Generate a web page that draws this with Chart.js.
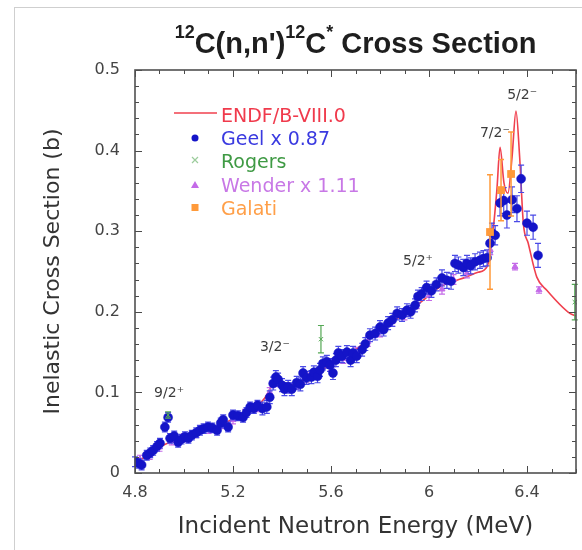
<!DOCTYPE html>
<html>
<head>
<meta charset="utf-8">
<script src="https://cdn.jsdelivr.net/npm/chart.js@4/dist/chart.umd.min.js"></script>
<style>
  html, body { margin:0; padding:0; background:#fff; }
  #wrap { position:relative; width:582px; height:550px; overflow:hidden; }
  #frame { position:absolute; left:14px; top:7px; right:-2px; bottom:-2px; border-top:1px solid #cfcfcf; border-left:1px solid #cfcfcf; }
  #title { position:absolute; left:135px; width:441px; top:25px; text-align:center; font:bold 29px "Liberation Sans", Arial, sans-serif; color:#1e1e1e; line-height:36px; white-space:nowrap; }
  #title sup { font-size:18px; vertical-align:15px; line-height:0; }
  canvas { position:absolute; left:0; top:0; }
</style>
</head>
<body>
<div id="wrap">
  <div id="frame"></div>
  <canvas id="c" width="582" height="550"></canvas>
  <div id="title"><sup>12</sup>C(n,n')<sup>12</sup>C<sup>*</sup> Cross Section</div>
</div>
<script>
// ---------- DATA ----------
const xTicks = [4.8, 5.2, 5.6, 6.0, 6.4];
const yTicks = [0, 0.1, 0.2, 0.3, 0.4, 0.5];

const endfE = [4.80,4.85,4.90,4.95,5.00,5.05,5.10,5.15,5.20,5.25,5.30,5.33,5.35,5.365,5.38,5.40,5.45,5.50,5.55,5.60,5.65,5.70,5.75,5.80,5.85,5.90,5.95,6.00,6.05,6.10,6.15,6.20,6.237,6.257,6.277,6.29,6.306,6.322,6.339,6.355,6.37,6.385,6.405,6.44,6.48,6.575,6.60];
const endfS = [0.012,0.022,0.032,0.039,0.044,0.049,0.054,0.060,0.067,0.075,0.084,0.093,0.104,0.117,0.113,0.108,0.110,0.117,0.125,0.135,0.144,0.153,0.165,0.177,0.188,0.197,0.208,0.220,0.232,0.238,0.243,0.249,0.256,0.289,0.351,0.404,0.360,0.347,0.392,0.449,0.392,0.310,0.285,0.243,0.227,0.198,0.195];

const geelE = [4.800,4.815,4.827,4.848,4.862,4.874,4.890,4.902,4.922,4.935,4.943,4.960,4.976,4.990,5.004,5.018,5.032,5.050,5.065,5.080,5.098,5.115,5.135,5.150,5.160,5.180,5.200,5.220,5.241,5.255,5.270,5.285,5.300,5.320,5.338,5.350,5.364,5.375,5.384,5.400,5.410,5.425,5.440,5.460,5.475,5.486,5.500,5.520,5.530,5.545,5.555,5.567,5.583,5.596,5.608,5.620,5.630,5.645,5.665,5.680,5.690,5.705,5.727,5.740,5.759,5.780,5.800,5.815,5.833,5.850,5.870,5.890,5.910,5.925,5.943,5.955,5.970,5.990,6.010,6.030,6.053,6.073,6.090,6.106,6.120,6.140,6.155,6.170,6.188,6.208,6.222,6.237,6.249,6.257,6.270,6.290,6.305,6.318,6.339,6.359,6.376,6.400,6.425,6.445];
const geelS = [0.014,0.012,0.010,0.022,0.025,0.028,0.033,0.037,0.057,0.069,0.043,0.046,0.038,0.042,0.045,0.043,0.047,0.050,0.053,0.055,0.057,0.056,0.053,0.062,0.066,0.057,0.072,0.071,0.069,0.075,0.082,0.080,0.084,0.080,0.082,0.094,0.111,0.119,0.116,0.109,0.104,0.107,0.104,0.112,0.110,0.124,0.118,0.119,0.125,0.120,0.128,0.136,0.138,0.134,0.124,0.140,0.149,0.145,0.150,0.140,0.149,0.145,0.153,0.160,0.171,0.173,0.181,0.178,0.186,0.190,0.198,0.196,0.202,0.200,0.208,0.219,0.222,0.230,0.226,0.234,0.242,0.239,0.238,0.260,0.258,0.255,0.260,0.257,0.262,0.264,0.266,0.267,0.285,0.298,0.295,0.335,0.338,0.320,0.339,0.328,0.365,0.310,0.305,0.270];
const geelErr = [0.006,0.006,0.006,0.006,0.006,0.006,0.006,0.006,0.006,0.006,0.006,0.006,0.006,0.006,0.006,0.006,0.006,0.006,0.006,0.006,0.006,0.006,0.006,0.006,0.006,0.006,0.006,0.006,0.006,0.006,0.006,0.006,0.006,0.008,0.008,0.008,0.008,0.008,0.008,0.008,0.008,0.008,0.008,0.008,0.008,0.008,0.008,0.008,0.008,0.008,0.008,0.008,0.008,0.008,0.008,0.008,0.008,0.008,0.008,0.008,0.008,0.008,0.008,0.008,0.008,0.008,0.008,0.008,0.008,0.008,0.008,0.008,0.008,0.008,0.008,0.008,0.008,0.008,0.008,0.008,0.010,0.010,0.010,0.010,0.010,0.010,0.010,0.010,0.010,0.010,0.010,0.010,0.012,0.012,0.012,0.016,0.016,0.016,0.016,0.016,0.017,0.015,0.015,0.015];

const rogersE = [4.935, 5.559, 6.595];
const rogersS = [0.072, 0.166, 0.212];
const rogersErr = [0.004, 0.017, 0.022];

const wenderE = [4.82,4.86,4.90,4.95,5.00,5.05,5.10,5.15,5.20,5.25,5.30,5.35,5.38,5.42,5.46,5.50,5.55,5.60,5.65,5.70,5.75,5.80,5.85,5.90,5.95,6.00,6.053,6.10,6.155,6.25,6.351,6.449];
const wenderS = [0.017,0.022,0.032,0.040,0.044,0.049,0.054,0.060,0.066,0.074,0.082,0.100,0.113,0.106,0.110,0.118,0.124,0.133,0.142,0.150,0.163,0.175,0.188,0.196,0.210,0.220,0.228,0.240,0.248,0.277,0.256,0.227];
const wenderErr = [0.005,0.005,0.005,0.005,0.005,0.005,0.005,0.005,0.005,0.005,0.006,0.006,0.006,0.006,0.006,0.006,0.006,0.006,0.006,0.006,0.006,0.006,0.006,0.006,0.006,0.006,0.006,0.006,0.006,0.006,0.004,0.004];

const galatiE = [6.249, 6.294, 6.335];
const galatiS = [0.299, 0.351, 0.371];
const galatiErr = [0.071, 0.038, 0.052];

const seriesNames = ['ENDF/B-VIII.0', 'Geel x 0.87', 'Rogers', 'Wender x 1.11', 'Galati'];
const resonanceLabels = [
  {E:4.939, s:0.099, t:'9/2\u207A'},
  {E:5.371, s:0.156, t:'3/2\u207B'},
  {E:5.955, s:0.262, t:'5/2\u207A'},
  {E:6.269, s:0.422, t:'7/2\u207B'},
  {E:6.380, s:0.469, t:'5/2\u207B'}
];

// ---------- STYLE ----------
const C = {
  endf:'#f0404e', geel:'#1414c8', geelErr:'#4a4ae6', rogers:'#55a855',
  wender:'#c46ae8', galati:'#ff9a3a',
  geelText:'#3a3ae0', rogersText:'#3f9a44', wenderText:'#c878e6', galatiText:'#ff9f48', endfText:'#f03a4c'
};
const zip = (a,b) => a.map((v,i)=>({x:v, y:b[i]}));

const errorBars = {
  id:'errorBars',
  beforeDatasetDraw(chart, args){
    const ds = chart.data.datasets[args.index];
    if (!ds.errors) return;
    const {ctx} = chart; const y = chart.scales.y;
    ctx.save();
    ctx.strokeStyle = ds.errColor; ctx.lineWidth = ds.errWidth || 1.2;
    args.meta.data.forEach((pt,i)=>{
      const v = ds.data[i].y, e = ds.errors[i];
      const t = y.getPixelForValue(v+e), b = y.getPixelForValue(v-e);
      const cw = ds.capW || 3;
      ctx.beginPath();
      ctx.moveTo(pt.x, t); ctx.lineTo(pt.x, b);
      ctx.moveTo(pt.x-cw, t); ctx.lineTo(pt.x+cw, t);
      ctx.moveTo(pt.x-cw, b); ctx.lineTo(pt.x+cw, b);
      ctx.stroke();
    });
    ctx.restore();
  }
};

const frameTicks = {
  id:'frameTicks',
  afterDraw(chart){
    const {ctx, chartArea:a, scales:{x, y}} = chart;
    ctx.save();
    ctx.strokeStyle = '#4a4a4a';
    ctx.lineWidth = 1;
    for (let i=0;i<=18;i++){
      const v = 4.8 + i*0.1;
      const px = Math.round(x.getPixelForValue(v))+0.5;
      const L = (i%4===0) ? 7 : 4;
      ctx.beginPath();
      ctx.moveTo(px, a.bottom); ctx.lineTo(px, a.bottom-L);
      ctx.moveTo(px, a.top); ctx.lineTo(px, a.top+L);
      ctx.stroke();
    }
    for (let i=0;i<=25;i++){
      const v = i*0.02;
      const py = Math.round(y.getPixelForValue(v))+0.5;
      const L = (i%5===0) ? 7 : 4;
      ctx.beginPath();
      ctx.moveTo(a.left, py); ctx.lineTo(a.left+L, py);
      ctx.moveTo(a.right, py); ctx.lineTo(a.right-L, py);
      ctx.stroke();
    }
    ctx.lineWidth = 1.6;
    ctx.strokeStyle = '#505050';
    ctx.strokeRect(a.left, a.top, a.right-a.left, a.bottom-a.top);
    ctx.restore();
  }
};

const labelsAndLegend = {
  id:'labelsAndLegend',
  afterDraw(chart){
    const {ctx, scales:{x, y}} = chart;
    ctx.save();
    ctx.font = '14px "DejaVu Sans"';
    ctx.fillStyle = '#3c3c3c';
    ctx.textAlign = 'center'; ctx.textBaseline = 'middle';
    resonanceLabels.forEach(r => ctx.fillText(r.t, x.getPixelForValue(r.E), y.getPixelForValue(r.s)));
    const tx = 221, rows = [116, 139, 162, 186, 209], mx = 195;
    ctx.textAlign = 'left';
    ctx.font = '19px "DejaVu Sans"';
    const colors = [C.endfText, C.geelText, C.rogersText, C.wenderText, C.galatiText];
    seriesNames.forEach((n,i)=>{ ctx.fillStyle = colors[i]; ctx.fillText(n, tx, rows[i]+1); });
    ctx.strokeStyle = C.endf; ctx.lineWidth = 1.5;
    ctx.beginPath(); ctx.moveTo(174, rows[0]-3); ctx.lineTo(217, rows[0]-3); ctx.stroke();
    ctx.fillStyle = C.geel;
    ctx.beginPath(); ctx.arc(mx, rows[1]-1, 3.5, 0, Math.PI*2); ctx.fill();
    ctx.strokeStyle = '#9ccc9c'; ctx.lineWidth = 1.2;
    ctx.beginPath(); ctx.moveTo(mx-3, rows[2]-5); ctx.lineTo(mx+3, rows[2]+1); ctx.moveTo(mx+3, rows[2]-5); ctx.lineTo(mx-3, rows[2]+1); ctx.stroke();
    ctx.fillStyle = C.wender;
    ctx.beginPath(); ctx.moveTo(mx, rows[3]-5); ctx.lineTo(mx+4, rows[3]+2); ctx.lineTo(mx-4, rows[3]+2); ctx.closePath(); ctx.fill();
    ctx.fillStyle = C.galati;
    ctx.fillRect(mx-3.5, rows[4]-5, 7, 7);
    ctx.restore();
  }
};

new Chart(document.getElementById('c'), {
  type:'scatter',
  data:{
    datasets:[
      {label:seriesNames[0], data:zip(endfE, endfS), showLine:true, borderColor:C.endf, borderWidth:1.6, pointRadius:0, cubicInterpolationMode:'monotone', order:5},
      {label:seriesNames[3], data:zip(wenderE, wenderS), pointStyle:'triangle', pointRadius:3.5, backgroundColor:C.wender, borderColor:C.wender, borderWidth:1, errors:wenderErr, errColor:C.wender, capW:3, order:4},
      {label:seriesNames[1], data:zip(geelE, geelS), pointStyle:'circle', pointRadius:4.5, backgroundColor:C.geel, borderColor:C.geel, borderWidth:0.5, errors:geelErr, errColor:C.geelErr, capW:3, order:3},
      {label:seriesNames[2], data:zip(rogersE, rogersS), pointStyle:'crossRot', pointRadius:3, borderColor:C.rogers, borderWidth:1, errors:rogersErr, errColor:C.rogers, capW:3, clip:false, order:2},
      {label:seriesNames[4], data:zip(galatiE, galatiS), pointStyle:'rect', pointRadius:5.5, backgroundColor:C.galati, borderColor:C.galati, borderWidth:0, errors:galatiErr, errColor:C.galati, errWidth:1.5, capW:3, order:1}
    ]
  },
  options:{
    responsive:false, animation:false, devicePixelRatio:1,
    layout:{padding:{top:70, right:6, left:0, bottom:0}},
    plugins:{legend:{display:false}, tooltip:{enabled:false}, title:{display:false}},
    scales:{
      x:{
        type:'linear', min:4.8, max:6.6,
        grid:{display:false, drawTicks:false}, border:{display:false},
        afterBuildTicks: s => { s.ticks = xTicks.map(v=>({value:v})); },
        ticks:{callback: v => String(+Number(v).toFixed(1)), font:{family:'DejaVu Sans', size:16}, color:'#444', padding:10, maxRotation:0, autoSkip:false},
        title:{display:true, text:'Incident Neutron Energy (MeV)', font:{family:'DejaVu Sans', size:23}, color:'#333', padding:{top:0, bottom:9}},
        afterFit: s => { s.height = 77; }
      },
      y:{
        type:'linear', min:0, max:0.5,
        grid:{display:false, drawTicks:false}, border:{display:false},
        afterBuildTicks: s => { s.ticks = yTicks.map(v=>({value:v})); },
        ticks:{callback: v => String(+Number(v).toFixed(1)), font:{family:'DejaVu Sans', size:16}, color:'#444', padding:15},
        title:{display:true, text:'Inelastic Cross Section (b)', font:{family:'DejaVu Sans', size:22}, color:'#333', padding:{top:40, bottom:0}},
        afterFit: s => { s.width = 135; }
      }
    }
  },
  plugins:[errorBars, frameTicks, labelsAndLegend]
});
</script>
</body>
</html>
